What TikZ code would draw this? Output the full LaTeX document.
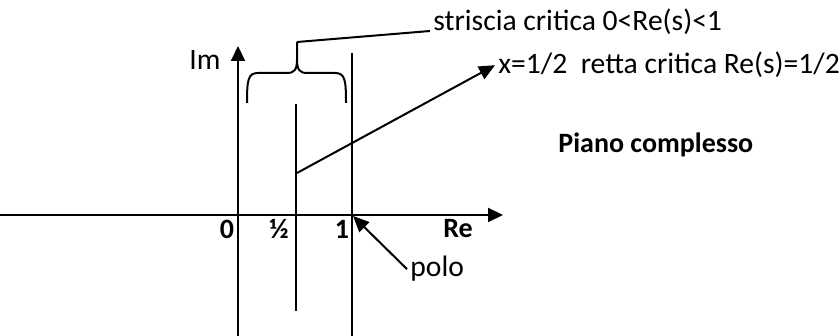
\documentclass[tikz,border=0pt]{standalone}
\usepackage{fontspec}
\setmainfont{Carlito}
\usepackage{tikz}
\usetikzlibrary{arrows.meta}
\tikzset{
  axis/.style={line width=1pt, -{Triangle[length=7.5pt, width=7pt]}},
  line/.style={line width=1pt},
  arrow/.style={line width=1pt, -{Triangle[length=8pt, width=7pt]}},
  txt/.style={font=\fontsize{14.8}{17}\selectfont, inner sep=1.5pt},
  num/.style={font=\fontsize{14}{16}\selectfont\bfseries, inner sep=0pt},
}
\begin{document}
\begin{tikzpicture}[x=0.5pt, y=-0.5pt]
  \useasboundingbox (0,0) rectangle (840,336);

  % Axes
  \coordinate (west)  at (0,215);
  \coordinate (east)  at (503,215);
  \coordinate (south) at (238,336);
  \coordinate (north) at (238,46);
  \draw[axis] (west)--(east);
  \draw[axis] (south)--(north);

  % Lines Re(s)=1 and Re(s)=1/2
  \coordinate (onebot)  at (352,336);
  \coordinate (onetop)  at (352,53);
  \coordinate (halfbot) at (296,311);
  \coordinate (halftop) at (296,104);
  \draw[line] (onebot)--(onetop);
  \draw[line] (halfbot)--(halftop);

  % Brace over the strip
  \coordinate (bl)  at (247,103);
  \coordinate (br)  at (346,103);
  \coordinate (tip) at (297,42);
  \draw[line] (bl) .. controls (247,80) and (248,73) .. (258,73) -- (287,73)
    .. controls (294,73) and (297,70) .. (297,60) -- (tip);
  \draw[line] (br) .. controls (346,80) and (345,73) .. (335,73) -- (307,73)
    .. controls (300,73) and (297,70) .. (297,60);

  % Labels
  \node[txt, anchor=base west] (striscia) at (430,31) {striscia critica 0<Re(s)<1};
  \node[txt, anchor=base west] (retta)    at (495,74) {x=1/2\ \ retta critica Re(s)=1/2};
  \node[txt, anchor=base west] (im)       at (186,70) {Im};
  \node[txt, anchor=base west] (polo)     at (407,277) {polo};
  \node[txt, font=\fontsize{14}{16}\selectfont\bfseries, anchor=base west]
                               (piano)    at (555,153) {Piano complesso};
  \node[num] (zero) at (227,229) {0};
  \node[num] (half) at (279,229) {½};
  \node[num] (one)  at (342,229) {1};
  \node[num] (re)   at (458,229) {Re};

  % Connectors
  \coordinate (crit) at (297,173);
  \coordinate (pole) at (353,216);
  \draw[line]  (tip)--(striscia.base west);
  \draw[arrow] (crit)--(retta.west);
  \draw[arrow] (polo.west)--(pole);
\end{tikzpicture}
\end{document}
